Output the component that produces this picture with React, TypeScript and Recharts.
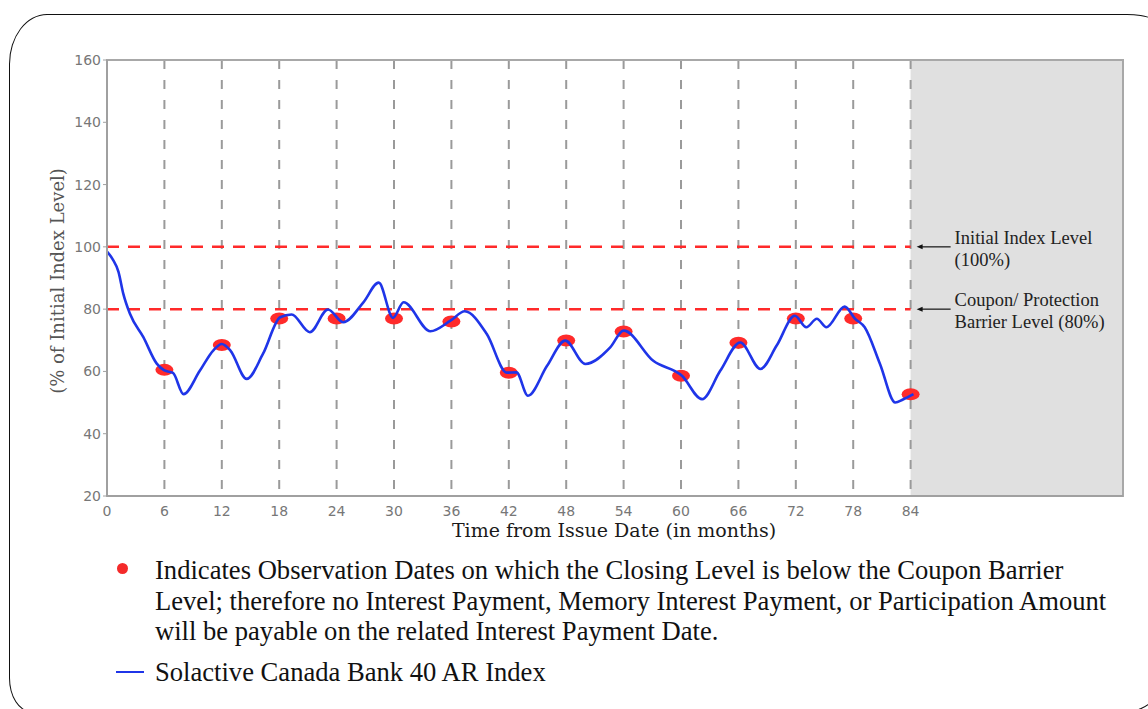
import React from "react";
import {
  ComposedChart,
  Line,
  Scatter,
  XAxis,
  YAxis,
  CartesianGrid,
  ReferenceLine,
  ReferenceArea,
} from "recharts";

// months since issue
const indexMonths = [
  0, 0.6, 1.2, 1.7, 2.4, 3.8, 5.2, 6.0, 6.9, 8.0, 9.7, 11.1, 12.0, 12.9, 14.6,
  16.3, 18.1, 19.3, 21.2, 23.1, 24.7, 26.8, 28.4, 29.9, 31.0, 33.8, 35.9, 37.4,
  39.7, 41.8, 42.8, 44.0, 46.0, 47.9, 50.0, 52.6, 54.0, 57.1, 60.1, 62.2, 64.1,
  66.2, 68.3, 70.0, 71.9, 73.1, 74.2, 75.2, 77.1, 78.2, 79.2, 80.8, 82.4, 83.2,
  84.3,
];
const indexLevels = [
  98.5, 96, 92, 85, 78.5, 71, 62.5, 60.3, 59.5, 52.7, 60.2, 66.7, 68.8, 66.7,
  57.6, 65.6, 77.4, 78.3, 72.6, 79.9, 75.8, 82.2, 88.5, 77.2, 82.2, 72.9, 76.3,
  79.3, 72, 59.6, 59.7, 52.2, 61.8, 69.9, 62.4, 67.7, 73.1, 63.4, 58.6, 51.1,
  60.2, 69.3, 60.8, 68.3, 77.9, 74.2, 76.9, 74.2, 80.8, 76.9, 74.2, 62.4, 50,
  51, 52.7,
];

// observation dates below the coupon barrier
const obsMonths = [6, 12, 18, 24, 30, 36, 42, 48, 54, 60, 66, 72, 78, 84];
const obsLevels = [
  60.5, 68.5, 77, 77, 77, 76, 59.6, 69.9, 72.8, 58.6, 69.2, 77, 77, 52.7,
];

const monthTicks = [0, 6, 12, 18, 24, 30, 36, 42, 48, 54, 60, 66, 72, 78, 84];
const levelTicks = [20, 40, 60, 80, 100, 120, 140, 160];

const initialLevel = 100;
const barrierLevel = 80;
const maturity = 84;
const axisEnd = 106.2;

const initialLabel = ["Initial Index Level", "(100%)"];
const barrierLabel = ["Coupon/ Protection", "Barrier Level (80%)"];

const indexData = indexMonths.map((m, i) => ({ month: m, level: indexLevels[i] }));
const obsData = obsMonths.map((m, i) => ({ month: m, level: obsLevels[i] }));

const serif = "'Liberation Serif', 'Times New Roman', serif";

function ArrowLabel(props: any) {
  const { viewBox, lines } = props;
  if (!viewBox) return null;
  const endX = viewBox.x + viewBox.width;
  const y = viewBox.y;
  return (
    <g>
      <line x1={endX + 10} y1={y} x2={endX + 40} y2={y} stroke="#111" strokeWidth={1.2} />
      <polygon
        points={`${endX + 6},${y} ${endX + 12},${y - 2.5} ${endX + 12},${y + 2.5}`}
        fill="#111"
      />
      {lines.map((t: string, i: number) => (
        <text
          key={i}
          x={endX + 44}
          y={y - 3 + i * 22}
          fontFamily={serif}
          fontSize={18.5}
          fill="#222"
        >
          {t}
        </text>
      ))}
    </g>
  );
}

function ObsMarker(props: any) {
  const { cx, cy } = props;
  if (cx == null || cy == null) return null;
  return <ellipse cx={cx} cy={cy} rx={9} ry={6} fill="#ff2b2b" />;
}

export default function App() {
  return (
    <div
      style={{
        position: "absolute",
        left: 0,
        top: 0,
        width: 1148,
        height: 709,
        overflow: "hidden",
        background: "#fff",
      }}
    >
      {/* rounded frame */}
      <div
        style={{
          position: "absolute",
          left: 9,
          top: 14,
          width: 1152,
          height: 696,
          border: "1.5px solid #111",
          borderRadius: "38px 36px 36px 22px / 50px 14px 36px 34px",
        }}
      />

      <div style={{ position: "absolute", left: 0, top: 0 }}>
        <ComposedChart
          width={1148}
          height={709}
          margin={{ top: 60, right: 25, left: 0, bottom: 183 }}
        >
          <ReferenceArea
            x1={maturity}
            x2={axisEnd}
            y1={20}
            y2={160}
            fill="#e0e0e0"
            fillOpacity={1}
            stroke="none"
            zIndex={-200}
          />
          <CartesianGrid
            horizontal={false}
            stroke="#9a9a9a"
            strokeWidth={2}
            strokeDasharray="9 11"
          />
          <ReferenceArea
            x1={0}
            x2={axisEnd}
            y1={20}
            y2={160}
            fill="none"
            stroke="#a8a8a8"
            strokeWidth={2}
          />
          <XAxis
            dataKey="month"
            type="number"
            domain={[0, axisEnd]}
            ticks={monthTicks}
            allowDataOverflow
            height={30}
            tickLine={false}
            tickMargin={4}
            axisLine={{ stroke: "#a0a0a0", strokeWidth: 2 }}
            tick={{ fontFamily: "'DejaVu Sans'", fontSize: 14, fill: "#777" }}
          />
          <YAxis
            type="number"
            domain={[20, 160]}
            ticks={levelTicks}
            width={107}
            tickSize={4}
            tickMargin={2}
            tickLine={{ stroke: "#a0a0a0" }}
            axisLine={{ stroke: "#a0a0a0", strokeWidth: 2 }}
            tick={{ fontFamily: "'DejaVu Sans'", fontSize: 14, fill: "#777" }}
          />
          <ReferenceLine
            segment={[
              { x: 0, y: initialLevel },
              { x: maturity, y: initialLevel },
            ]}
            stroke="#ff2a2a"
            strokeWidth={2.5}
            strokeDasharray="12 9"
            label={(p: any) => <ArrowLabel {...p} lines={initialLabel} />}
          />
          <ReferenceLine
            segment={[
              { x: 0, y: barrierLevel },
              { x: maturity, y: barrierLevel },
            ]}
            stroke="#ff2a2a"
            strokeWidth={2.5}
            strokeDasharray="12 9"
            label={(p: any) => <ArrowLabel {...p} lines={barrierLabel} />}
          />
          <Scatter
            data={obsData}
            dataKey="level"
            shape={ObsMarker}
            isAnimationActive={false}
            zIndex={350}
          />
          <Line
            data={indexData}
            dataKey="level"
            type="monotone"
            stroke="#1f35e8"
            strokeWidth={2.6}
            dot={false}
            activeDot={false}
            isAnimationActive={false}
          />
        </ComposedChart>
      </div>

      {/* axis titles */}
      <div
        style={{
          position: "absolute",
          left: 414,
          top: 519,
          width: 400,
          textAlign: "center",
          fontFamily: "'DejaVu Serif', serif",
          fontSize: 19,
          color: "#1a1a1a",
          whiteSpace: "nowrap",
        }}
      >
        Time from Issue Date (in months)
      </div>
      <div
        style={{
          position: "absolute",
          left: 58 - 150,
          top: 281 - 12,
          width: 300,
          height: 24,
          lineHeight: "24px",
          textAlign: "center",
          transform: "rotate(-90deg)",
          fontFamily: "'DejaVu Serif', serif",
          fontSize: 18,
          color: "#555",
          whiteSpace: "nowrap",
        }}
      >
        (% of Initial Index Level)
      </div>

      {/* legend notes */}
      <div
        style={{
          position: "absolute",
          left: 116.5,
          top: 562.5,
          width: 11,
          height: 11,
          borderRadius: "50%",
          background: "#f42a2a",
        }}
      />
      <div
        style={{
          position: "absolute",
          left: 155,
          top: 555,
          fontFamily: serif,
          fontSize: 26.6,
          lineHeight: "30.5px",
          color: "#111",
          whiteSpace: "nowrap",
        }}
      >
        Indicates Observation Dates on which the Closing Level is below the Coupon Barrier
        <br />
        Level; therefore no Interest Payment, Memory Interest Payment, or Participation Amount
        <br />
        will be payable on the related Interest Payment Date.
      </div>
      <div
        style={{
          position: "absolute",
          left: 116,
          top: 671,
          width: 28,
          height: 2,
          background: "#1f35e8",
        }}
      />
      <div
        style={{
          position: "absolute",
          left: 155,
          top: 657,
          fontFamily: serif,
          fontSize: 26.6,
          lineHeight: "30.5px",
          color: "#111",
          whiteSpace: "nowrap",
        }}
      >
        Solactive Canada Bank 40 AR Index
      </div>
    </div>
  );
}
